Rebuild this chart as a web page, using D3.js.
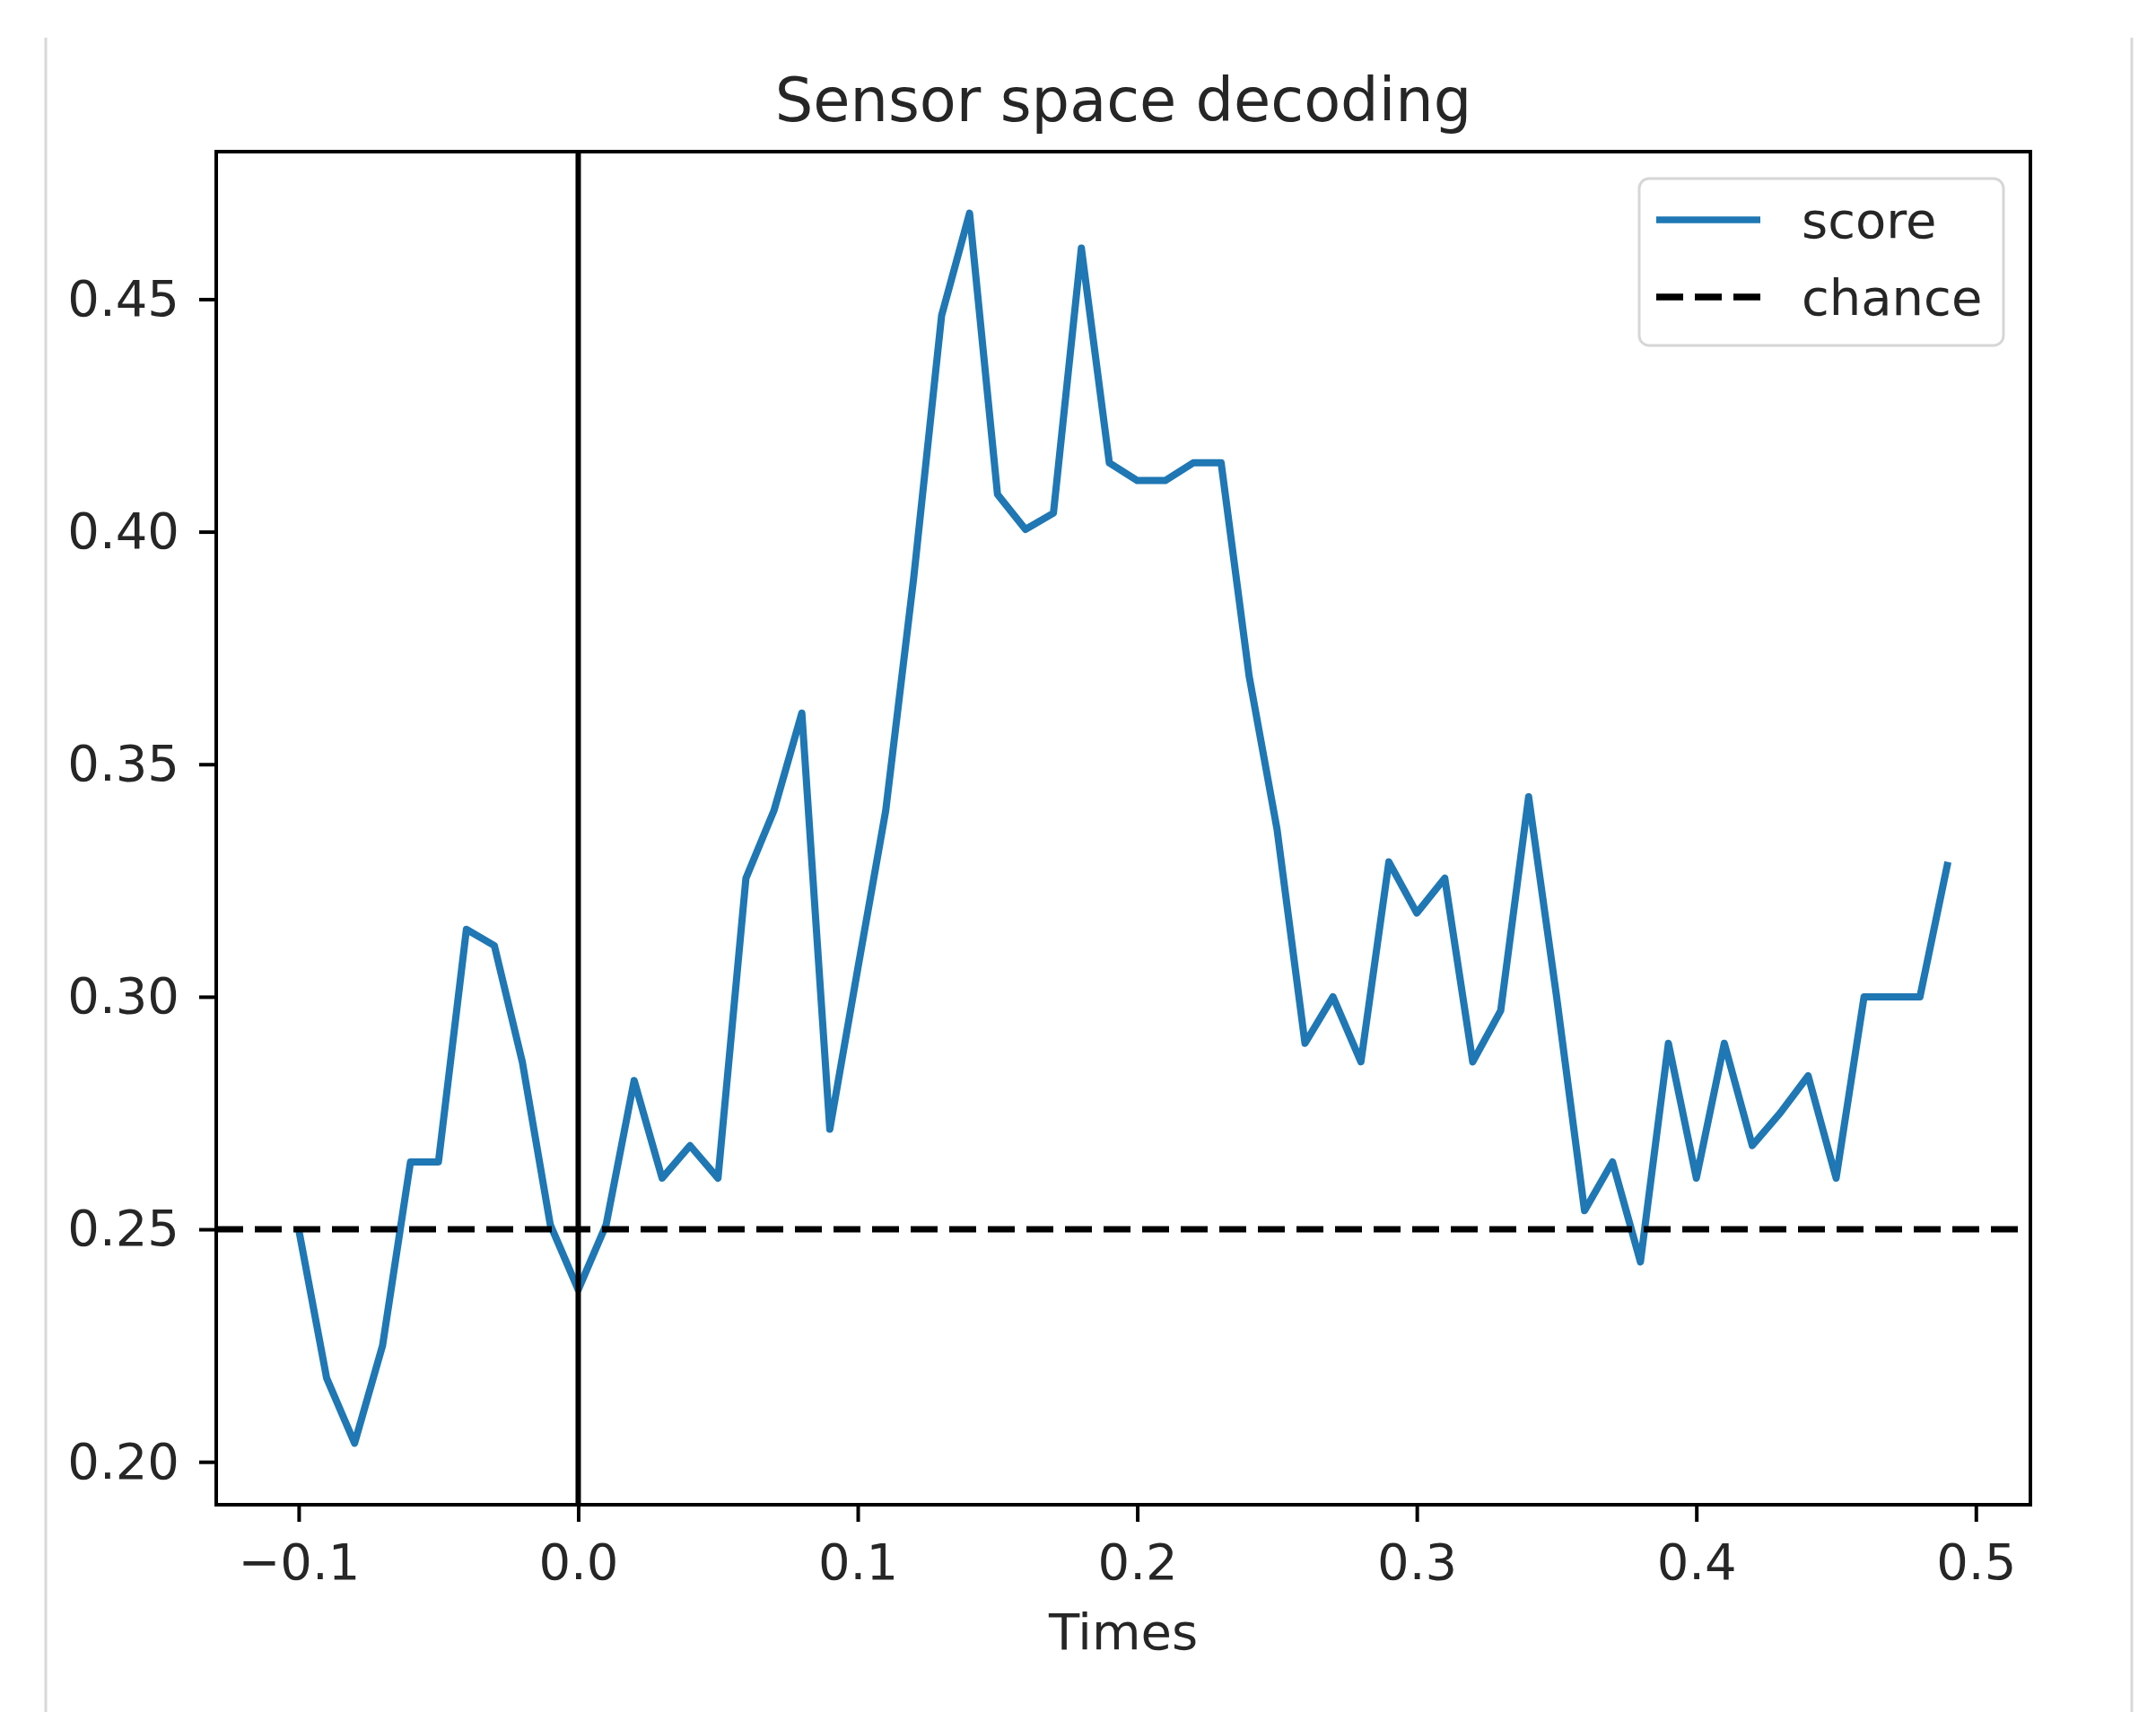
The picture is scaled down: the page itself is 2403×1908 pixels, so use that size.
<!DOCTYPE html>
<html>
  <head>
    <meta charset="utf-8">
    <title>Sensor space decoding</title>
    <script src="https://d3js.org/d3.v7.min.js"></script>
    <style>
      body { margin: 0; background: #fff; }
      text { font-family: "DejaVu Sans", sans-serif; fill: #262626; }
    </style>
  </head>
  <body>

    <script>

      // time points (s) and decoding score
      var times = [-0.10, -0.09, -0.08, -0.07, -0.06, -0.05, -0.04, -0.03, -0.02, -0.01,
                    0.00,  0.01,  0.02,  0.03,  0.04,  0.05,  0.06,  0.07,  0.08,  0.09,
                    0.10,  0.11,  0.12,  0.13,  0.14,  0.15,  0.16,  0.17,  0.18,  0.19,
                    0.20,  0.21,  0.22,  0.23,  0.24,  0.25,  0.26,  0.27,  0.28,  0.29,
                    0.30,  0.31,  0.32,  0.33,  0.34,  0.35,  0.36,  0.37,  0.38,  0.39,
                    0.40,  0.41,  0.42,  0.43,  0.44,  0.45,  0.46,  0.47,  0.48,  0.49];
      var scores = [0.250, 0.218, 0.204, 0.225, 0.2645, 0.2645, 0.3145, 0.311, 0.286, 0.251,
                    0.237, 0.251, 0.282, 0.261, 0.268, 0.261, 0.3255, 0.340, 0.361, 0.2715,
                    0.306, 0.340, 0.390, 0.4465, 0.4685, 0.408, 0.4005, 0.404, 0.461, 0.4148,
                    0.411, 0.411, 0.4148, 0.4148, 0.369, 0.336, 0.290, 0.300, 0.286, 0.329,
                    0.318, 0.3255, 0.286, 0.297, 0.343, 0.300, 0.254, 0.2645, 0.243, 0.290,
                    0.261, 0.290, 0.268, 0.275, 0.283, 0.261, 0.300, 0.300, 0.300, 0.329];
      var chance = 0.25;
      var xTicks = [-0.1, 0.0, 0.1, 0.2, 0.3, 0.4, 0.5];
      var yTicks = [0.20, 0.25, 0.30, 0.35, 0.40, 0.45];
      var legendItems = ["score", "chance"];

      var W = 2403, H = 1908;
      var padL = 241, padR = 2263, padT = 169, padB = 1677;

      var svg = d3.select("body").append("svg")
        .attr("width", W)
        .attr("height", H);

      // notebook cell borders
      svg.append("line").attr("x1", 51).attr("x2", 51).attr("y1", 42).attr("y2", H)
        .attr("stroke", "#d8d8d8").attr("stroke-width", 3);
      svg.append("line").attr("x1", 2376).attr("x2", 2376).attr("y1", 42).attr("y2", H)
        .attr("stroke", "#d8d8d8").attr("stroke-width", 3);

      // matplotlib style 5% margins
      var xr = 0.49 - (-0.10), x0 = -0.10 - 0.05 * xr, x1 = 0.49 + 0.05 * xr;
      var yMin = d3.min(scores), yMax = d3.max(scores), yr = yMax - yMin;

      var x = d3.scaleLinear().domain([x0, x1]).range([padL, padR]);
      var y = d3.scaleLinear().domain([yMin - 0.05 * yr, yMax + 0.05 * yr]).range([padB, padT]);

      var plot = svg.append("g");

      plot.append("path")
        .datum(d3.zip(times, scores))
        .attr("fill", "none")
        .attr("stroke", "#1f77b4")
        .attr("stroke-width", 8)
        .attr("stroke-linejoin", "round")
        .attr("d", d3.line().x(d => x(d[0])).y(d => y(d[1])));

      plot.append("line")
        .attr("x1", padL).attr("x2", padR)
        .attr("y1", y(chance)).attr("y2", y(chance))
        .attr("stroke", "#000").attr("stroke-width", 7)
        .attr("stroke-dasharray", "30,13");

      plot.append("line")
        .attr("x1", x(0)).attr("x2", x(0))
        .attr("y1", padT).attr("y2", padB)
        .attr("stroke", "#000").attr("stroke-width", 6);

      // axes
      var xAxis = svg.append("g")
        .attr("transform", "translate(0," + padB + ")")
        .call(d3.axisBottom(x).tickValues(xTicks).tickSize(19).tickPadding(24)
          .tickFormat(d => d3.format(".1f")(d).replace("-", "\u2212")));
      var yAxis = svg.append("g")
        .attr("transform", "translate(" + padL + ",0)")
        .call(d3.axisLeft(y).tickValues(yTicks).tickSize(19).tickPadding(22)
          .tickFormat(d3.format(".2f")));

      [xAxis, yAxis].forEach(function(g) {
        g.select(".domain").remove();
        g.selectAll(".tick line").attr("stroke", "#000").attr("stroke-width", 4);
        g.selectAll(".tick text").attr("font-size", 56).attr("fill", "#262626")
          .style("font-family", "DejaVu Sans");
      });

      svg.append("rect")
        .attr("x", padL).attr("y", padT)
        .attr("width", padR - padL).attr("height", padB - padT)
        .attr("fill", "none").attr("stroke", "#000").attr("stroke-width", 4);

      // title and label
      svg.append("text")
        .attr("x", (padL + padR) / 2).attr("y", 135)
        .attr("text-anchor", "middle").attr("font-size", 67)
        .text("Sensor space decoding");

      svg.append("text")
        .attr("x", (padL + padR) / 2).attr("y", 1838)
        .attr("text-anchor", "middle").attr("font-size", 56)
        .text("Times");

      // legend
      var leg = svg.append("g");
      leg.append("rect")
        .attr("x", 1827).attr("y", 199).attr("width", 406).attr("height", 186)
        .attr("rx", 11).attr("fill", "#fff").attr("fill-opacity", 0.8)
        .attr("stroke", "#d6d6d6").attr("stroke-width", 3);

      leg.selectAll("line.item").data(legendItems).enter().append("line")
        .attr("class", "item")
        .attr("x1", 1846).attr("x2", 1962)
        .attr("y1", (d, i) => 245 + i * 86).attr("y2", (d, i) => 245 + i * 86)
        .attr("stroke", (d, i) => i === 0 ? "#1f77b4" : "#000")
        .attr("stroke-width", 7.5)
        .attr("stroke-dasharray", (d, i) => i === 0 ? null : "30,13");

      leg.selectAll("text.item").data(legendItems).enter().append("text")
        .attr("class", "item")
        .attr("x", 2008).attr("y", (d, i) => 265 + i * 86)
        .attr("font-size", 56)
        .text(d => d);

    </script>

  </body>
</html>
